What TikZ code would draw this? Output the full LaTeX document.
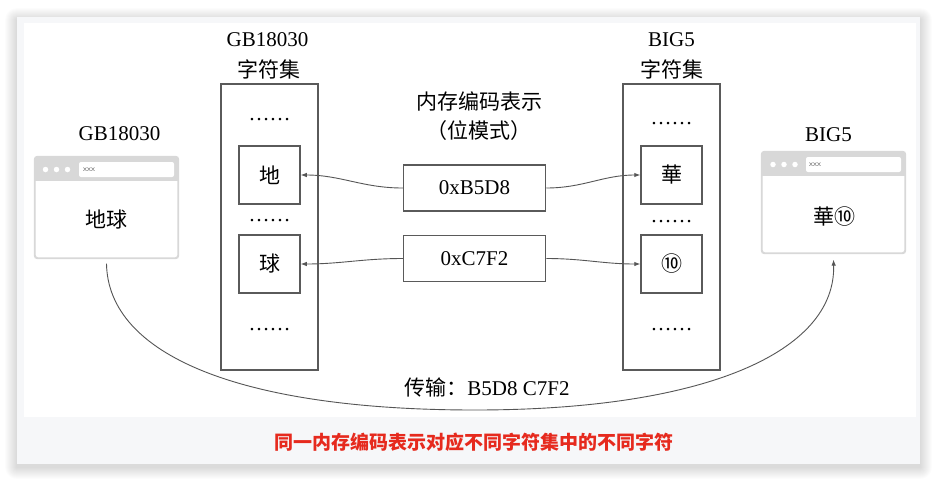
\documentclass[tikz,border=0pt]{standalone}
\usepackage{fontspec}
\setmainfont{Liberation Serif}
\newfontfamily\cjk{Noto Sans CJK SC}
\usetikzlibrary{arrows.meta,positioning}
\definecolor{edgegray}{HTML}{5A5A5A}
\definecolor{linkgray}{HTML}{555555}
\definecolor{wingray}{HTML}{D8D8D8}
\definecolor{cardgray}{HTML}{F6F7F9}
\definecolor{capred}{HTML}{E62A1E}
\tikzset{
  column/.style={draw=edgegray, line width=1.5pt, minimum width=97pt, minimum height=286pt, inner sep=0pt},
  charbox/.style={draw=edgegray, line width=1.5pt, minimum width=61pt, minimum height=58pt, inner sep=0pt,
    font=\cjk\fontsize{21}{25}\selectfont},
  codebox/.style={draw=edgegray, line width=1.5pt, minimum width=142pt, minimum height=46pt, inner sep=0pt,
    font=\fontsize{21}{25}\selectfont},
  dots/.style={anchor=base, inner sep=0pt, font=\fontsize{21}{25}\selectfont},
  headtext/.style={inner sep=0pt, font=\fontsize{21}{25}\selectfont, align=center},
  cjktext/.style={inner sep=0pt, font=\cjk\fontsize{21}{25}\selectfont, align=center},
  webwin/.style={draw=wingray, line width=1.2pt, fill=white, rounded corners=3pt, minimum width=143pt, minimum height=101pt, inner sep=0pt},
  addrbar/.style={fill=white, rounded corners=2pt, minimum width=95pt, minimum height=15pt, inner sep=0pt},
  windot/.style={fill=white, circle, minimum size=5.5pt, inner sep=0pt},
  link/.style={draw=linkgray, line width=0.9pt, -{Latex[length=6pt,width=4.5pt]}},
}
\begin{document}
\begin{tikzpicture}[x=1pt, y=-1pt]
  \useasboundingbox (0,0) rectangle (938,483);
  \fill[white] (0,0) rectangle (938,483);
  % card with shadow
  \foreach \i in {1,...,12}
    \fill[black, opacity=0.01, rounded corners=\i pt] (17-\i,17-\i+3) rectangle (920+\i,464+\i+3);
  \fill[cardgray] (17,17) rectangle (920,464);
  \fill[white] (24,23) rectangle (916,417);

  % character sets
  \node[column] (gbset) at (269.5,227) {};
  \node[column] (bigset) at (671.5,227) {};
  \node[headtext] (gbname) at (267.5,40) {GB18030};
  \node[cjktext] (gbsetname) at (268.5,69) {字符集};
  \node[headtext] (bigname) at (671.5,40) {BIG5};
  \node[cjktext] (bigsetname) at (671.5,69) {字符集};

  \node[charbox] (di) at (269.5,175) {地};
  \node[charbox] (qiu) at (269.5,264) {球};
  \node[charbox] (hua) at (671.5,175) {華};
  \node[charbox] (ten) at (671.5,264) {⑩};

  \node[dots] (gbdots1) at (269.5,120.5) {……};
  \node[dots] (gbdots2) at (269.5,221.5) {……};
  \node[dots] (gbdots3) at (269.5,330.5) {……};
  \node[dots] (bigdots1) at (671.5,124.5) {……};
  \node[dots] (bigdots2) at (671.5,222.5) {……};
  \node[dots] (bigdots3) at (671.5,330.5) {……};

  % memory codes
  \node[cjktext] (memname) at (479,116) {内存编码表示\\[4pt]（位模式）};
  \node[codebox] (b5d8) at (474.5,188) {0xB5D8};
  \node[codebox] (c7f2) at (474.5,258.5) {0xC7F2};

  \draw[link] (b5d8.west) to[out=180, in=0] (di.east);
  \draw[link] (b5d8.east) to[out=0, in=180] (hua.west);
  \draw[link] (c7f2.west) to[out=180, in=0] (qiu.east);
  \draw[link] (c7f2.east) to[out=0, in=180] (ten.west);

  % browser windows
  \node[webwin] (gbwin) at (106.5,207.5) {};
  \begin{scope}
    \clip[rounded corners=3pt] (gbwin.north west) rectangle (gbwin.south east);
    \fill[wingray] (gbwin.north west) rectangle ([yshift=-25pt]gbwin.north east);
  \end{scope}
  \draw[wingray, line width=1.2pt, rounded corners=3pt] (gbwin.north west) rectangle (gbwin.south east);
  \foreach \dx in {0,11,22}
    \node[windot] at (45.5+\dx,169.5) {};
  \node[addrbar] (gbaddr) at (126.5,169.5) {};
  \node[anchor=west, inner sep=0pt, font=\sffamily\fontsize{8}{8}\selectfont, text=black!65] at (83,169.5) {xxx};
  \node[cjktext] (gbshow) at (106,220) {地球};
  \node[headtext] (gbwinname) at (119.5,134) {GB18030};

  \node[webwin] (bigwin) at (833.5,202.5) {};
  \begin{scope}
    \clip[rounded corners=3pt] (bigwin.north west) rectangle (bigwin.south east);
    \fill[wingray] (bigwin.north west) rectangle ([yshift=-25pt]bigwin.north east);
  \end{scope}
  \draw[wingray, line width=1.2pt, rounded corners=3pt] (bigwin.north west) rectangle (bigwin.south east);
  \foreach \dx in {0,11,22}
    \node[windot] at (773+\dx,164.5) {};
  \node[addrbar] (bigaddr) at (853.5,164.5) {};
  \node[anchor=west, inner sep=0pt, font=\sffamily\fontsize{8}{8}\selectfont, text=black!65] at (809,164.5) {xxx};
  \node[cjktext] (bigshow) at (834,217) {華⑩};
  \node[headtext] (bigwinname) at (828.5,135) {BIG5};

  % transfer
  \coordinate (send) at ([yshift=-5pt]gbwin.south);
  \coordinate (recv) at ([yshift=-6pt]bigwin.south);
  \draw[link] (send) .. controls (108,355) and (240,410) .. (475,410)
    .. controls (705,410) and (836,352) .. (recv);
  \node[inner sep=0pt, font=\fontsize{21}{25}\selectfont] (sendname) at (487,387) {{\cjk 传输：}B5D8 C7F2};

  \node[inner sep=0pt, font=\cjk\bfseries\fontsize{19}{22}\selectfont, text=capred] (caption) at (474,442)
    {同一内存编码表示对应不同字符集中的不同字符};
\end{tikzpicture}
\end{document}
